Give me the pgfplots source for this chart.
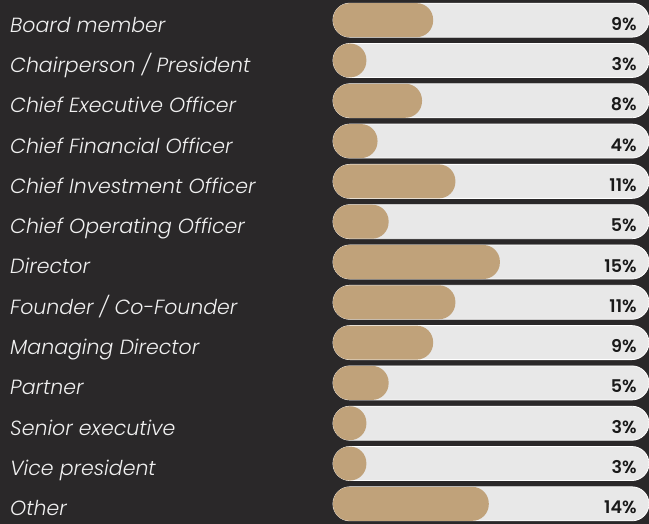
\documentclass[border=0pt]{standalone}
\usepackage{pgfplots}
\pgfplotsset{compat=1.18}
\usepackage{pgfplotstable}
\usepackage{fontspec}
\setmainfont{Poppins}
\newfontfamily\labelfont{Poppins Light Italic}
\newfontfamily\pctfont{Poppins SemiBold}
\definecolor{bg}{HTML}{2A2829}
\definecolor{tanbar}{HTML}{C0A27A}
\definecolor{trackc}{HTML}{E8E8E8}
\pgfplotstableread{
idx val track
0 9 28.4
1 3 28.4
2 8 28.4
3 4 28.4
4 11 28.4
5 5 28.4
6 15 28.4
7 11 28.4
8 9 28.4
9 5 28.4
10 3 28.4
11 3 28.4
12 14 28.4
}\data
\begin{document}
\begin{tikzpicture}
\path[use as bounding box, fill=bg] (0,0) rectangle (649pt,524pt);
\begin{axis}[
  at={(333pt,0pt)}, anchor=south west,
  scale only axis, width=316pt, height=524pt,
  xmin=0, xmax=28.4, ymin=-0.5, ymax=12.5, y dir=reverse,
  enlargelimits=false, clip=false,
  axis x line=none,
  y axis line style={draw=none},
  major tick style={draw=none},
  /pgf/number format/assume math mode=true,
  ytick={0,...,12},
  yticklabels={Board member, Chairperson / President, Chief Executive Officer, Chief Financial Officer, Chief Investment Officer, Chief Operating Officer, Director, Founder / Co-Founder, Managing Director, Partner, Senior executive, Vice president, Other},
  yticklabel style={anchor=base west, inner sep=0pt, xshift=-323pt, yshift=-12pt, font=\labelfont\fontsize{20.5}{20.5}\selectfont, text=white!94!black},
]
\addplot[xbar, bar shift=0pt, bar width=34pt, fill=trackc, draw=white, line width=0.8pt, rounded corners=17pt,
  point meta=explicit,
  nodes near coords={\pgfmathprintnumber[assume math mode=true]{\pgfplotspointmeta}\%},
  nodes near coords style={anchor=base east, inner sep=0pt, xshift=-12pt, yshift=-10pt, font=\pctfont\fontsize{17.5}{17.5}\selectfont, text=black!90}]
  table[x=track, y=idx, meta=val]{\data};
\addplot[xbar, bar shift=0pt, bar width=34pt, fill=tanbar, draw=none, rounded corners=16.5pt]
  table[x=val, y=idx]{\data};
\end{axis}
\end{tikzpicture}
\end{document}
